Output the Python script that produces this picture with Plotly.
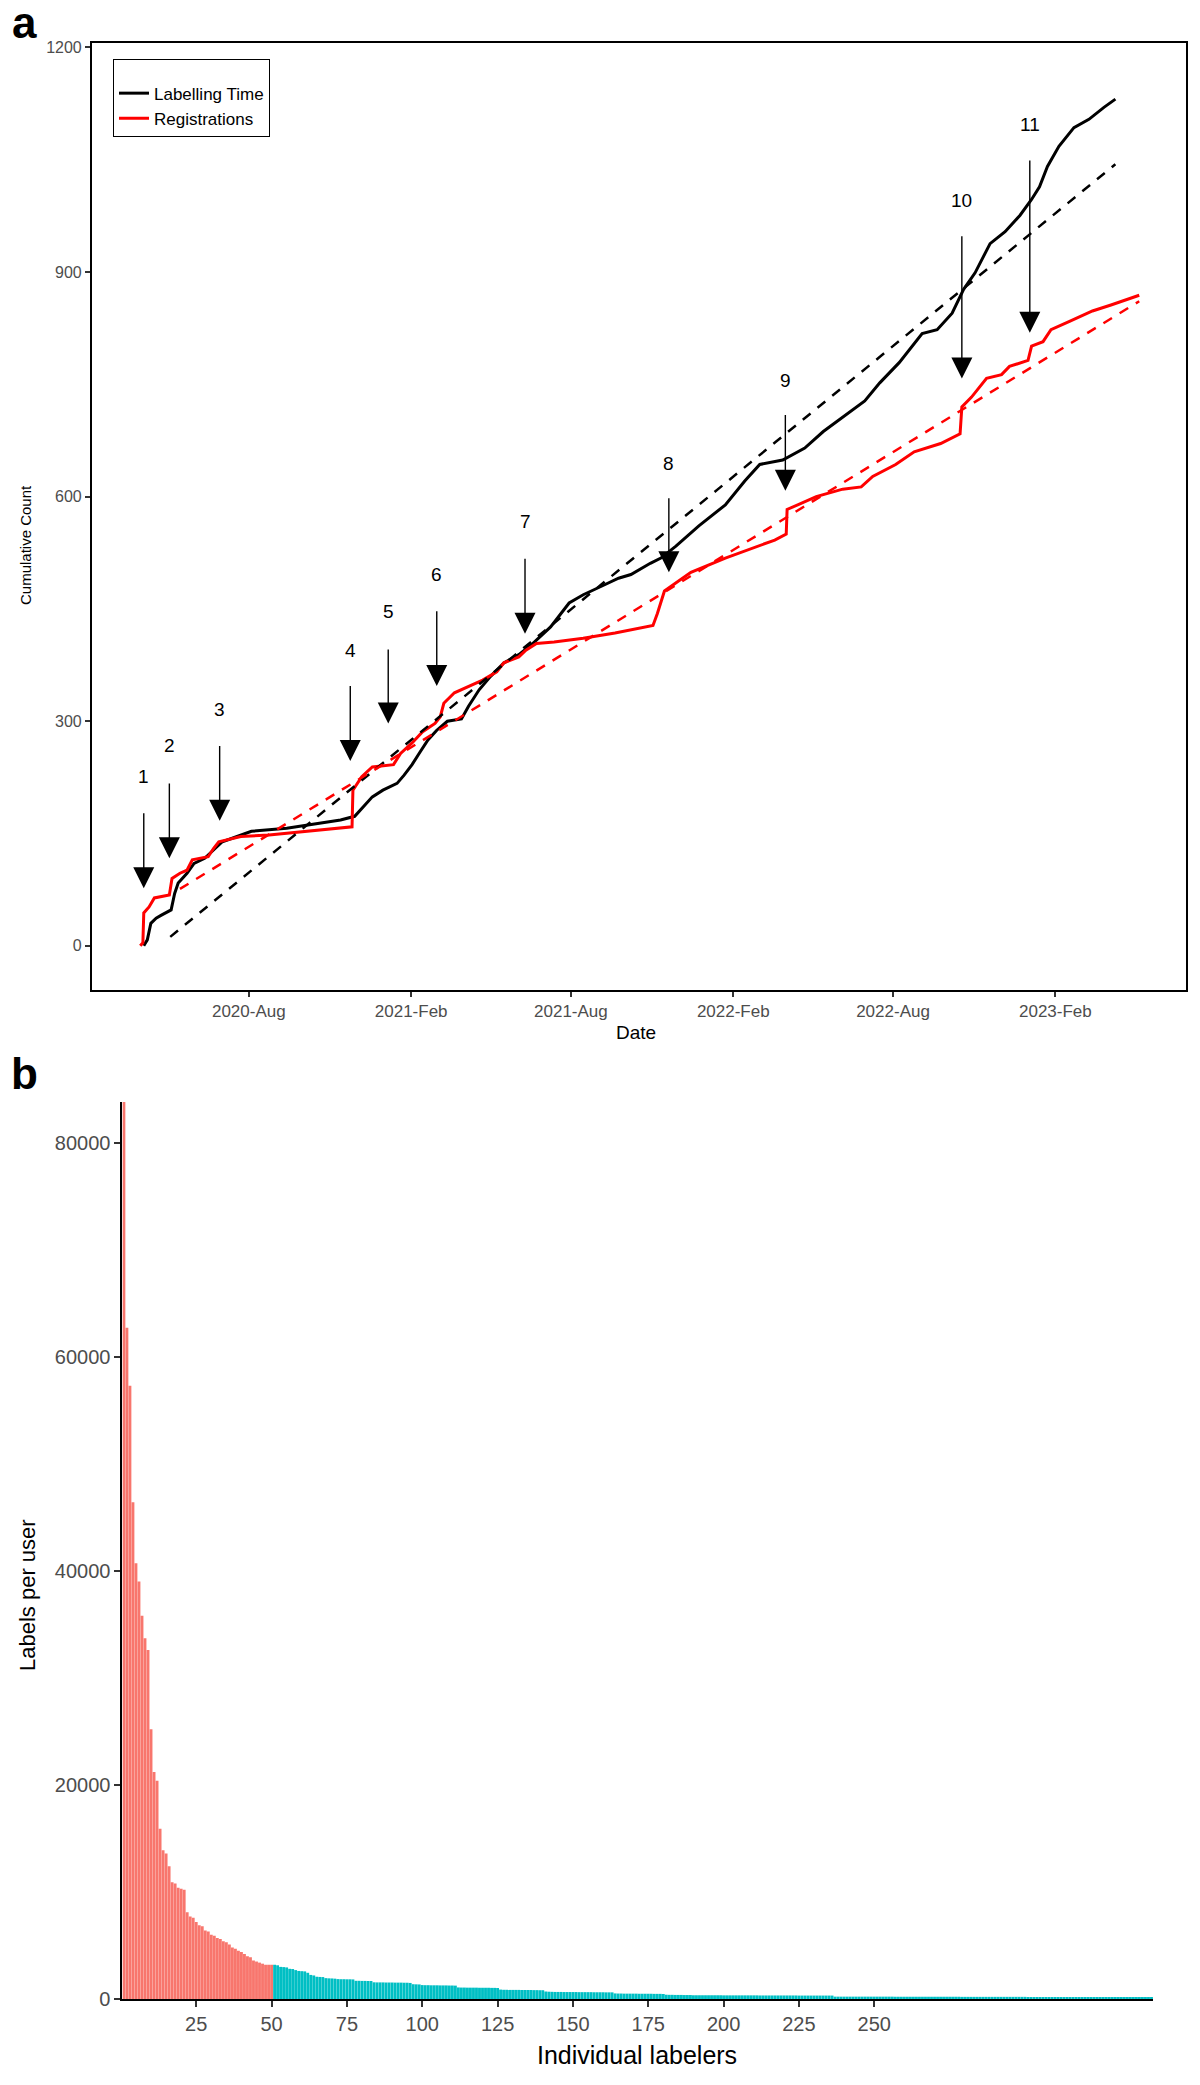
import plotly.graph_objects as go

# ---------------- Panel a data ----------------
labelling_dates = [
    "2020-04-04", "2020-04-08", "2020-04-12", "2020-04-18", "2020-04-24", "2020-05-05",
    "2020-05-09", "2020-05-13", "2020-05-23", "2020-05-31", "2020-06-12", "2020-06-22",
    "2020-07-02", "2020-07-14", "2020-08-04", "2020-09-13", "2020-10-11", "2020-11-13",
    "2020-11-29", "2020-12-07", "2020-12-19", "2020-12-31", "2021-01-16", "2021-01-24",
    "2021-02-02", "2021-02-10", "2021-02-20", "2021-03-02", "2021-03-14", "2021-03-30",
    "2021-04-07", "2021-04-19", "2021-05-02", "2021-05-17", "2021-06-03", "2021-06-19",
    "2021-07-09", "2021-07-30", "2021-08-15", "2021-09-04", "2021-09-24", "2021-10-08",
    "2021-10-30", "2021-11-11", "2021-11-28", "2021-12-24", "2022-01-23", "2022-02-14",
    "2022-03-03", "2022-03-29", "2022-04-23", "2022-05-14", "2022-06-09", "2022-06-30",
    "2022-07-17", "2022-08-08", "2022-09-03", "2022-09-20", "2022-10-07", "2022-10-20",
    "2022-11-02", "2022-11-19", "2022-12-06", "2022-12-23", "2023-01-05", "2023-01-14",
    "2023-01-23", "2023-02-05", "2023-02-22", "2023-03-11", "2023-03-28", "2023-04-10",
]
labelling_counts = [
    0, 8, 30, 37, 41, 48, 70, 84, 97, 110, 117, 128,
    139, 144, 153, 157, 162, 168, 173, 184, 199, 208, 217, 228,
    242, 257, 275, 288, 300, 303, 320, 342, 360, 378, 389, 404,
    426, 458, 469, 480, 491, 496, 511, 518, 534, 561, 589, 621,
    643, 649, 665, 687, 709, 728, 752, 779, 818, 823, 845, 877,
    899, 938, 954, 976, 997, 1014, 1041, 1068, 1093, 1104, 1120, 1131,
]

registration_dates = [
    "2020-03-31", "2020-04-03", "2020-04-04", "2020-04-10", "2020-04-16", "2020-05-03",
    "2020-05-06", "2020-05-15", "2020-05-23", "2020-05-29", "2020-06-16", "2020-06-22",
    "2020-06-28", "2020-07-23", "2020-08-24", "2020-10-03", "2020-11-21", "2020-11-26",
    "2020-11-27", "2020-12-07", "2020-12-19", "2021-01-12", "2021-01-20", "2021-02-02",
    "2021-02-14", "2021-02-28", "2021-03-06", "2021-03-10", "2021-03-22", "2021-04-07",
    "2021-04-23", "2021-05-09", "2021-05-17", "2021-06-03", "2021-06-11", "2021-06-23",
    "2021-07-13", "2021-08-15", "2021-09-20", "2021-11-02", "2021-11-07", "2021-11-15",
    "2021-12-15", "2022-01-23", "2022-02-22", "2022-03-20", "2022-04-02", "2022-04-03",
    "2022-04-15", "2022-05-06", "2022-06-05", "2022-06-26", "2022-07-09", "2022-08-04",
    "2022-08-25", "2022-09-24", "2022-10-16", "2022-10-18", "2022-10-29", "2022-11-15",
    "2022-12-02", "2022-12-11", "2023-01-01", "2023-01-05", "2023-01-18", "2023-01-27",
    "2023-02-17", "2023-03-15", "2023-04-05", "2023-05-07",
]
registration_counts = [
    0, 4, 44, 52, 64, 68, 90, 97, 101, 115, 119, 130,
    139, 146, 148, 153, 159, 159, 208, 226, 239, 242, 257, 271,
    286, 297, 306, 324, 338, 346, 355, 366, 378, 386, 395, 404,
    406, 411, 418, 428, 444, 474, 499, 518, 531, 542, 550, 583,
    589, 600, 610, 613, 627, 643, 660, 671, 684, 720, 733, 758,
    763, 774, 782, 801, 807, 823, 834, 848, 856, 869,
]

labelling_fit_dates = ["2020-05-04", "2023-04-10"]
labelling_fit_counts = [12, 1044]
registration_fit_dates = ["2020-05-15", "2023-05-07"]
registration_fit_counts = [76, 861]

event_labels = ["1", "2", "3", "4", "5", "6", "7", "8", "9", "10", "11"]
event_dates = ["2020-04-04", "2020-05-03", "2020-06-29", "2020-11-24", "2021-01-06",
               "2021-03-02", "2021-06-10", "2021-11-20", "2022-04-01", "2022-10-18",
               "2023-01-03"]
event_arrow_tip = [77, 117, 167, 247, 297, 347, 417, 499, 608, 758, 819]
event_arrow_top = [179, 219, 269, 349, 398, 449, 519, 600, 711, 950, 1051]
event_label_y = [226, 267, 316, 395, 446, 496, 567, 644, 755, 996, 1097]

date_tick_vals = ["2020-08-01", "2021-02-01", "2021-08-01", "2022-02-01", "2022-08-01", "2023-02-01"]
date_tick_text = ["2020-Aug", "2021-Feb", "2021-Aug", "2022-Feb", "2022-Aug", "2023-Feb"]
count_ticks = [0, 300, 600, 900, 1200]

# ---------------- Panel b data ----------------
top_group_size = 50
labels_per_user = [
    83800, 62700, 57300, 46400, 40700, 39000, 35800, 33700, 32600, 25200,
    21200, 20400, 15900, 13900, 13600, 12400, 10900, 10800, 10400, 10300,
    10200, 8100, 7700, 7600, 7200, 6900, 6800, 6400, 6300, 6000,
    5900, 5700, 5600, 5400, 5300, 5100, 4800, 4700, 4500, 4400,
    4200, 4000, 3900, 3600, 3500, 3400, 3300, 3200, 3200, 3200,
    3200, 3150, 3000, 2980, 2950, 2820, 2800, 2700, 2620, 2600,
    2580, 2450, 2250, 2200, 2080, 2060, 2050, 1950, 1930, 1920,
    1900, 1860, 1850, 1850, 1840, 1840, 1830, 1700, 1700, 1690,
    1690, 1680, 1680, 1560, 1550, 1550, 1550, 1540, 1540, 1540,
    1530, 1530, 1530, 1520, 1520, 1500, 1380, 1370, 1360, 1300,
    1290, 1290, 1280, 1280, 1280, 1270, 1270, 1270, 1260, 1260,
    1250, 1080, 1070, 1070, 1060, 1060, 1060, 1060, 1050, 1050,
    1050, 1050, 1040, 1040, 1030, 880, 860, 860, 850, 850,
    850, 850, 840, 840, 840, 840, 830, 830, 820, 820,
    700, 680, 670, 660, 660, 660, 650, 650, 650, 650,
    650, 640, 640, 640, 640, 640, 630, 630, 630, 630,
    620, 620, 620, 520, 510, 510, 500, 500, 500, 500,
    500, 490, 490, 490, 490, 490, 480, 480, 480, 470,
    400, 390, 390, 380, 380, 380, 370, 370, 370, 350,
    350, 350, 350, 350, 350, 350, 350, 350, 350, 340,
    340, 340, 340, 340, 340, 340, 340, 340, 340, 340,
    340, 330, 330, 330, 330, 330, 330, 330, 330, 330,
    330, 330, 330, 330, 320, 320, 320, 320, 320, 320,
    320, 320, 320, 320, 320, 320, 220, 220, 220, 220,
    220, 220, 220, 220, 220, 220, 220, 220, 220, 220,
    220, 220, 220, 220, 220, 220, 210, 210, 210, 210,
    210, 210, 210, 210, 210, 210, 210, 210, 210, 210,
    210, 210, 210, 210, 210, 210, 210, 210, 200, 200,
    200, 200, 200, 200, 200, 200, 200, 200, 200, 200,
    200, 200, 200, 200, 200, 200, 200, 200, 200, 200,
    190, 190, 190, 190, 190, 190, 190, 190, 190, 190,
    190, 190, 190, 190, 190, 190, 190, 190, 190, 190,
    190, 180, 180, 180, 180, 180, 180, 180, 180, 180,
    180, 180, 180, 180, 180, 180, 180, 180, 180, 180,
    180, 180,
]
labeler_ticks = [25, 50, 75, 100, 125, 150, 175, 200, 225, 250]
labels_ticks = [0, 20000, 40000, 60000, 80000]

# ---------------- Layout helpers (screen pixel -> paper) ----------------
# the page body has an 8px default margin, so the figure is drawn at (8, 8)
OFF = 8
W, H = 1200 - 2 * OFF, 2085 - 2 * OFF
def px_x(x):
    return (x - OFF) / W
def px_y(y):
    return 1 - (y - OFF) / H

FONT = "Liberation Sans, Arial, sans-serif"
TICK_GREY = "#4D4D4D"

fig = go.Figure()

# Panel a lines
fig.add_trace(go.Scatter(x=labelling_dates, y=labelling_counts, mode="lines",
                         name="Labelling Time", line=dict(color="black", width=3),
                         xaxis="x", yaxis="y"))
fig.add_trace(go.Scatter(x=registration_dates, y=registration_counts, mode="lines",
                         name="Registrations", line=dict(color="#FF0000", width=3),
                         xaxis="x", yaxis="y"))
fig.add_trace(go.Scatter(x=labelling_fit_dates, y=labelling_fit_counts, mode="lines",
                         showlegend=False, line=dict(color="black", width=2.5, dash="10px,9px"),
                         xaxis="x", yaxis="y"))
fig.add_trace(go.Scatter(x=registration_fit_dates, y=registration_fit_counts, mode="lines",
                         showlegend=False, line=dict(color="#FF0000", width=2.5, dash="10px,9px"),
                         xaxis="x", yaxis="y"))

# Panel b bars
ranks = list(range(1, len(labels_per_user) + 1))
fig.add_trace(go.Bar(x=ranks[:top_group_size], y=labels_per_user[:top_group_size],
                     marker=dict(color="#F8766D", line=dict(width=0)),
                     showlegend=False, xaxis="x2", yaxis="y2"))
fig.add_trace(go.Bar(x=ranks[top_group_size:], y=labels_per_user[top_group_size:],
                     marker=dict(color="#00BFC4", line=dict(width=0)),
                     showlegend=False, xaxis="x2", yaxis="y2"))

annotations = []
# event arrows + numbers
for lab, d, tip, top, ly in zip(event_labels, event_dates, event_arrow_tip, event_arrow_top, event_label_y):
    annotations.append(dict(x=d, y=tip, ax=d, ay=top, xref="x", yref="y", axref="x", ayref="y",
                            text="", showarrow=True, arrowhead=2, arrowsize=3.0, arrowwidth=1.4,
                            arrowcolor="black", standoff=0))
    annotations.append(dict(x=d, y=ly, xref="x", yref="y", text=lab, showarrow=False,
                            xanchor="center", yanchor="middle",
                            font=dict(family=FONT, size=19, color="black")))

def paper_text(x, y, text, size, angle=0):
    return dict(x=px_x(x), y=px_y(y), xref="paper", yref="paper", text=text,
                textangle=angle, showarrow=False, xanchor="center", yanchor="middle",
                font=dict(family=FONT, size=size, color="black"))

# axis titles & panel letters
annotations += [
    paper_text(25, 545, "Cumulative Count", 15, -90),
    paper_text(636, 1032, "Date", 19),
    paper_text(27, 1595, "Labels per user", 22, -90),
    paper_text(637, 2055, "Individual labelers", 25),
    paper_text(24, 22, "<b>a</b>", 44),
    paper_text(24, 1073, "<b>b</b>", 44),
]

fig.update_layout(
    width=W, height=H,
    margin=dict(l=0, r=0, t=0, b=0),
    paper_bgcolor="white", plot_bgcolor="white",
    font=dict(family=FONT, color="black"),
    bargap=0.05,
    annotations=annotations,
    legend=dict(x=px_x(113), y=px_y(59), xanchor="left", yanchor="top",
                bordercolor="black", borderwidth=1, bgcolor="white",
                font=dict(family=FONT, size=17, color="black"),
                title=dict(text=" ", font=dict(size=12))),
    xaxis=dict(domain=[px_x(91.7), px_x(1186)], anchor="y", type="date",
               range=["2020-02-05", "2023-06-29"],
               tickvals=date_tick_vals, ticktext=date_tick_text,
               showline=True, mirror=True, linecolor="black", linewidth=1.5,
               ticks="outside", ticklen=5, tickcolor="#333333", tickwidth=1.5,
               tickfont=dict(family=FONT, size=17, color=TICK_GREY),
               showgrid=False, zeroline=False, automargin=False),
    yaxis=dict(domain=[px_y(990), px_y(43)], anchor="x", range=[-59, 1206],
               tickvals=count_ticks, ticktext=[str(v) for v in count_ticks],
               showline=True, mirror=True, linecolor="black", linewidth=1.5,
               ticks="outside", ticklen=5, tickcolor="#333333", tickwidth=1.5,
               tickfont=dict(family=FONT, size=16, color=TICK_GREY),
               showgrid=False, zeroline=False, automargin=False),
    xaxis2=dict(domain=[px_x(122.4), px_x(1153)], anchor="y2", range=[0.5, 342.5],
                tickvals=labeler_ticks, ticktext=[str(v) for v in labeler_ticks],
                showline=True, mirror=False, linecolor="black", linewidth=2,
                ticks="outside", ticklen=6, tickcolor="#333333", tickwidth=1.5,
                tickfont=dict(family=FONT, size=20, color=TICK_GREY),
                showgrid=False, zeroline=False, automargin=False),
    yaxis2=dict(domain=[px_y(1999), px_y(1102)], anchor="x2", range=[0, 83800],
                tickvals=labels_ticks, ticktext=[str(v) for v in labels_ticks],
                showline=True, mirror=False, linecolor="black", linewidth=2,
                ticks="outside", ticklen=6, tickcolor="#333333", tickwidth=1.5,
                tickfont=dict(family=FONT, size=20, color=TICK_GREY),
                showgrid=False, zeroline=False, automargin=False),
)

fig.write_html("out.html")
